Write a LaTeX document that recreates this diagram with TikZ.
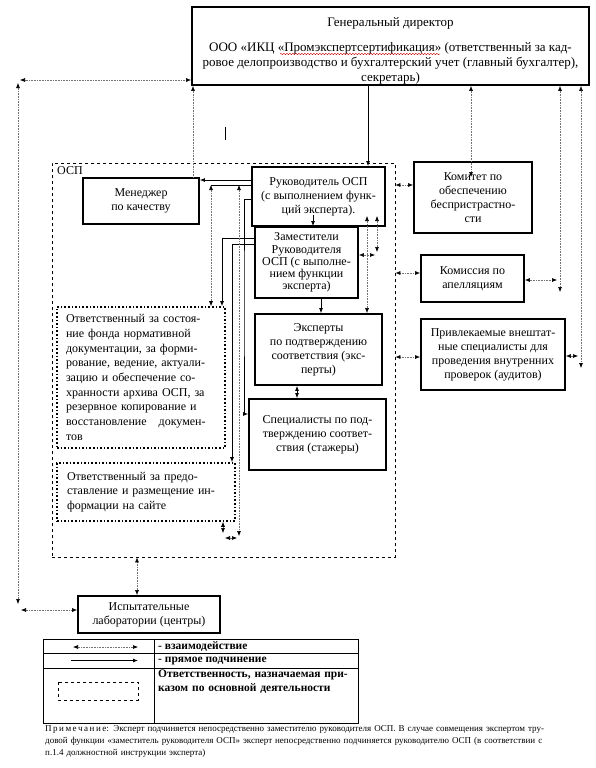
\documentclass[tikz,border=0pt]{standalone}
\usepackage{fontspec}
\setmainfont{Liberation Serif}
\usetikzlibrary{arrows.meta,positioning,decorations.pathmorphing}

% one justified line of a box
\newcommand{\jline}[1]{\makebox[\linewidth][s]{#1}\\}

\begin{document}
\begin{tikzpicture}[x=1pt,y=-1pt,
    box/.style={draw, line width=1.8pt, fill=white, align=center, inner sep=0pt,
        font=\fontsize{12}{14}\selectfont},
    respbox/.style={draw, dotted, line width=1.6pt, fill=white, inner sep=0pt,
        align=left, font=\fontsize{12}{14.7}\selectfont},
    wtip/.tip={Latex[length=5pt,width=4pt,color=black]},
    link/.style={densely dotted, draw=black!55, line width=0.6pt, arrows={wtip-wtip}},
    sub/.style={line width=0.8pt, arrows={-wtip}},
    legtext/.style={anchor=west, inner sep=0pt, font=\fontsize{11.5}{13.5}\selectfont\bfseries}]
\useasboundingbox (0,0) rectangle (596,768);

% ОСП frame
\node[draw, dashed, line width=0.8pt, minimum width=343, minimum height=394] (osp) at (223.5,360) {};
\node[anchor=west, inner sep=0pt, font=\fontsize{12}{14}\selectfont] (osplbl) at (57,171) {ОСП};

% boxes
\node[box, minimum width=397, minimum height=78] (gd) at (390.5,46) {};
\node[align=center, inner sep=0pt, font=\fontsize{13}{15}\selectfont] (gdtxt) at (390.5,51)
    {Генеральный директор\\[10pt]
     ООО «ИКЦ «Промэкспертсертификация» (ответственный за кад-\\
     ровое делопроизводство и бухгалтерский учет (главный бухгалтер),\\
     секретарь)};
\draw[red!80!black, line width=0.4pt, decorate, decoration={snake, amplitude=0.7pt, segment length=3pt}]
    (280,54) -- (440,54);
\node[box, minimum width=116, minimum height=46] (mgr) at (141,201) {Менеджер\\по качеству};
\node[box, minimum width=133, minimum height=59] (ruk) at (318.5,196.5)
    {Руководитель ОСП\\(с выполнением функ-\\ций эксперта).};
\node[box, minimum width=103, minimum height=71, font=\fontsize{12}{12.2}\selectfont] (zam) at (306.5,262.5)
    {Заместители\\Руководителя\\ОСП (с выполне-\\нием функции\\эксперта)};
\node[box, minimum width=127, minimum height=71] (exp) at (318.5,349.5)
    {Эксперты\\по подтверждению\\соответствия (экс-\\перты)};
\node[box, minimum width=137, minimum height=71] (stz) at (317.5,434.5)
    {Специалисты по под-\\тверждению соответ-\\ствия (стажеры)};
\node[box, minimum width=118, minimum height=71] (com) at (473,197.5)
    {Комитет по\\обеспечению\\беспристрастно-\\сти};
\node[box, minimum width=103, minimum height=47] (app) at (472.5,278.5) {Комиссия по\\апелляциям};
\node[box, minimum width=144, minimum height=71] (aud) at (493,354.5)
    {Привлекаемые внештат-\\ные специалисты для\\проведения внутренних\\проверок (аудитов)};
\node[box, minimum width=142, minimum height=37] (labs) at (149,614.5) {Испытательные\\лаборатории (центры)};

\node[respbox, minimum width=168, minimum height=141, text width=150] (resp1) at (141,377.5)
    {\jline{Ответственный за состоя-}\jline{ние фонда нормативной}\jline{документации, за форми-}%
     \jline{рование, ведение, актуали-}\jline{зацию и обеспечение со-}\jline{хранности архива ОСП, за}%
     \jline{резервное копирование и}\jline{восстановление \ \ докумен-}тов};
\node[respbox, minimum width=178, minimum height=58, text width=158] (resp2) at (146,492)
    {\jline{Ответственный за предо-}\jline{ставление и размещение ин-}формации на сайте};

% free ends
\coordinate (ha) at (211,185);
\coordinate (hb) at (239,185);
\coordinate (hc) at (239,536);
\coordinate (rz) at (313,215);
\coordinate (re) at (367,216);
\coordinate (rf) at (377,216);
\coordinate (rg) at (377,252);
\coordinate (zh) at (375,255);
\coordinate (ci) at (471,177);
\coordinate (aj) at (560,292);
\coordinate (ak) at (557,280);
\coordinate (pl) at (581,368);
\coordinate (pm) at (578,356);
\coordinate (lt) at (20,80);
\coordinate (lu) at (18,83);
\coordinate (lv) at (18,604);
\coordinate (lw) at (21,610);
\coordinate (bx) at (223,533);
\coordinate (by) at (225,538);
\coordinate (bz) at (237,538);

% direct subordination
\draw[sub] (gd.south -| 368,0) -- (ruk.north -| 368,0);
\draw[sub] (ruk.west |- 0,180) -- (mgr.east |- 0,180);
\draw[line width=0.8pt] (ruk.west |- 0,185) -- (ha);
\draw[sub] (ruk.west |- 0,199) -| (244,300) |- (stz.west |- 0,414);
\draw[sub] (zam.west |- 0,238) -| (resp1.north -| 222,0);
\draw[sub] (zam.west |- 0,244) -| (resp2.north -| 232,0);
\draw[sub] (rz) -- (zam.north -| 313,0);
\draw[sub] (zam.south -| 321,0) -- (exp.north -| 321,0);
\draw[line width=0.8pt, arrows={wtip-wtip}] (exp.south -| 297,0) -- (stz.north -| 297,0);

% interaction
\draw[link, arrows={wtip-}] (gd.south -| 193,0) -- (mgr.north -| 193,0);
\draw[link] (ha) -- (resp1.north -| 211,0);
\draw[link] (hb) -- (hc);
\draw[link] (re) -- (exp.north -| 367,0);
\draw[link] (rf) -- (rg);
\draw[link] (zam.east |- 0,255) -- (zh);
\draw[link] (osp.east |- 0,185) -- (com.west |- 0,185);
\draw[link] (osp.east |- 0,273) -- (app.west |- 0,273);
\draw[link] (osp.east |- 0,357) -- (aud.west |- 0,357);
\draw[link] (gd.south -| 471,0) -- (ci);
\draw[link] (gd.south -| 560,0) -- (aj);
\draw[link] (app.east |- 0,280) -- (ak);
\draw[link] (gd.south -| 581,0) -- (pl);
\draw[link] (aud.east |- 0,356) -- (pm);
\draw[link] (gd.west |- 0,80) -- (lt);
\draw[link] (lu) -- (lv);
\draw[link] (lw) -- (labs.west |- 0,610);
\draw[link] (osp.south -| 137,0) -- (labs.north -| 137,0);
\draw[link] (resp2.south -| 223,0) -- (bx);
\draw[link] (by) -- (bz);
\draw[line width=0.6pt] (225,127) -- (225,140);

% legend
\draw[line width=0.8pt] (43,639) rectangle (358,723);
\draw[line width=0.6pt] (154,639) -- (154,723) (43,653) -- (358,653) (43,668) -- (358,668);
\draw[link] (73,647) -- (138,647);
\draw[sub] (71,660.5) -- (138,660.5);
\draw[dashed, line width=0.6pt] (58,682) rectangle (138,700);
\node[legtext] (leg1) at (158,646.5) {- взаимодействие};
\node[legtext] (leg2) at (158,661) {- прямое подчинение};
\node[legtext, anchor=north west, text width=192, align=left] (leg3) at (158,670)
    {\jline{Ответственность, назначаемая при-}казом по основной деятельности};

% note
\node[anchor=north west, inner sep=0pt, text width=515, align=left,
      font=\fontsize{9}{12.4}\selectfont] (note) at (45,725)
    {\jline{П\,р\,и\,м\,е\,ч\,а\,н\,и\,е: Эксперт подчиняется непосредственно заместителю руководителя ОСП. В случае совмещения экспертом тру-}%
     \jline{довой функции «заместитель руководителя ОСП» эксперт непосредственно подчиняется руководителю ОСП (в соответствии с}%
     п.1.4 должностной инструкции эксперта)};
\end{tikzpicture}
\end{document}
